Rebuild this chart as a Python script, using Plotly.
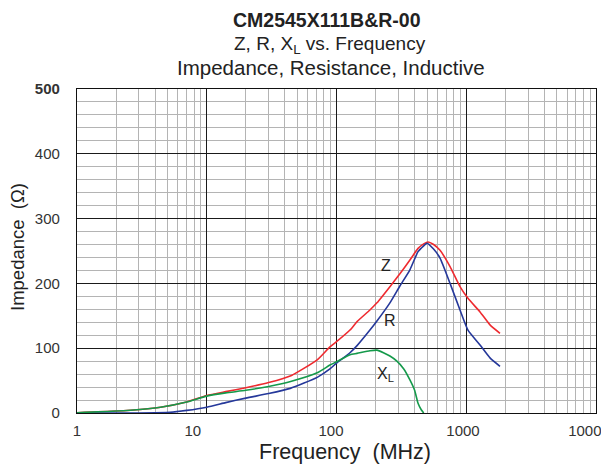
import plotly.graph_objects as go
import math

# ---- data ----
freq_z = [1, 2, 4.4, 7, 10, 14, 20, 30, 45, 71, 89, 100, 127, 144, 181, 205, 258, 308, 368, 425, 470, 507, 560, 628, 750, 895, 1031, 1277, 1524, 1820]
z_vals = [0.5, 3, 9, 17, 27, 33, 39, 47, 58, 82, 102, 110, 128, 141, 159, 170, 195, 215, 236, 254, 261, 264, 260, 251, 226, 195, 177, 156, 136, 123]

freq_r = [1, 3, 5.2, 7, 10, 14, 20, 30, 44, 71, 89, 100, 127, 144, 181, 205, 258, 308, 368, 425, 470, 498, 560, 628, 750, 895, 1031, 1277, 1524, 1820]
r_vals = [0, 0, 1, 4, 9, 16, 23, 30, 38, 55, 68, 77, 93, 104, 128, 142, 170, 196, 221, 249, 258, 262, 253, 239, 200, 159, 128, 105, 85, 72]

freq_x = [1, 2, 4.4, 7, 10, 14, 20, 30, 45, 71, 89, 100, 127, 144, 181, 205, 258, 292, 330, 368, 400, 425, 450, 470]
x_vals = [0.5, 3, 9, 17, 26, 31, 35, 41, 49, 62, 74, 79, 90, 92, 96, 97, 88, 80, 68, 51, 35, 15, 5, 0]

decades = [1, 10, 100, 1000, 10000]
minor_vals = [m * d for d in [1, 10, 100, 1000] for m in range(2, 10)]
xlabel_pos = [1, 7.8, 90.7, 944, 8830]
xlabel_text = ["1", "10", "100", "1000", "10000"]
ytick_vals = [0, 100, 200, 300, 400, 500]
ytick_text = ["0", "100", "200", "300", "400", "<b>500</b>"]

FONT = "Liberation Sans, Arial, sans-serif"
RED = "#ee2a2f"
BLUE = "#25389a"
GREEN = "#14994a"

fig = go.Figure()
fig.add_trace(go.Scatter(x=freq_z, y=z_vals, mode="lines", line=dict(color=RED, width=1.6, shape="spline", smoothing=0.5), showlegend=False))
fig.add_trace(go.Scatter(x=freq_r, y=r_vals, mode="lines", line=dict(color=BLUE, width=1.6, shape="spline", smoothing=0.5), showlegend=False))
fig.add_trace(go.Scatter(x=freq_x, y=x_vals, mode="lines", line=dict(color=GREEN, width=1.6, shape="spline", smoothing=0.5), showlegend=False))
# invisible trace to activate the label axis
fig.add_trace(go.Scatter(x=[1], y=[0], xaxis="x2", mode="markers", marker=dict(opacity=0), showlegend=False, hoverinfo="skip"))

# page body has an 8px margin: the figure is sized to fill the rest of the 609x468 window
fig.update_layout(
    width=601, height=460,
    margin=dict(l=69, r=13, t=81, b=55),
    paper_bgcolor="white", plot_bgcolor="white",
    font=dict(family=FONT, color="#333333"),
    xaxis=dict(type="log", range=[0, 4], tickmode="array", tickvals=decades, automargin=False,
               showticklabels=False, showgrid=True, gridcolor="#1a1a1a", gridwidth=1,
               minor=dict(tickmode="array", tickvals=minor_vals, showgrid=True, gridcolor="#b4b4b4", gridwidth=1.2),
               showline=True, linecolor="#111111", linewidth=1.2, mirror=True, zeroline=False, ticks=""),
    xaxis2=dict(type="log", range=[0, 4], overlaying="x", anchor="y", side="bottom", automargin=False,
                tickmode="array", tickvals=xlabel_pos, ticktext=xlabel_text, ticklabeloverflow="allow",
                showgrid=False, showline=False, zeroline=False, ticks="",
                tickfont=dict(size=15, color="#333333", family=FONT), ticklabelstandoff=7),
    yaxis=dict(range=[0, 500], tickmode="array", tickvals=ytick_vals, ticktext=ytick_text, automargin=False,
               showgrid=True, gridcolor="#1a1a1a", gridwidth=1,
               minor=dict(dtick=20, showgrid=True, gridcolor="#b4b4b4", gridwidth=1.2),
               showline=True, linecolor="#111111", linewidth=1.2, mirror=True, zeroline=False, ticks="",
               tickfont=dict(size=15, color="#333333", family=FONT), ticklabelstandoff=13),
)

def py(p):
    return (413 - p) / 324.0

def px(p):
    return (p - 77) / 519.0

# main title: box top placed at the top edge of the figure
fig.add_annotation(text="<b>CM2545X111B&amp;R-00</b>", x=px(327), y=py(8), xref="paper", yref="paper",
                   showarrow=False, xanchor="center", yanchor="top", borderpad=0,
                   font=dict(size=19.5, color="#222222", family=FONT))

ann = [
    dict(text="Z, R, X<sub>L</sub> vs. Frequency", x=px(330), y=py(45), size=19),
    dict(text="Impedance, Resistance, Inductive", x=px(331), y=py(68), size=20.5),
    dict(text="Frequency  (MHz)", x=px(345), y=py(452), size=21.5),
]
for a in ann:
    fig.add_annotation(text=a["text"], x=a["x"], y=a["y"], xref="paper", yref="paper",
                       showarrow=False, xanchor="center", yanchor="middle",
                       font=dict(size=a["size"], color="#222222", family=FONT))
fig.add_annotation(text="Impedance  (Ω)", x=px(18), y=py(247), xref="paper", yref="paper",
                   showarrow=False, textangle=-90, xanchor="center", yanchor="middle",
                   font=dict(size=18.5, color="#222222", family=FONT))

# curve labels (data coordinates)
for txt, f, v in [("Z", 240, 227), ("R", 258, 142), ("X<sub>L</sub>", 240, 60)]:
    fig.add_annotation(text=txt, x=math.log10(f), y=v, xref="x", yref="y", showarrow=False,
                       font=dict(size=16, color="#222222", family=FONT))

fig.write_html("out.html")
